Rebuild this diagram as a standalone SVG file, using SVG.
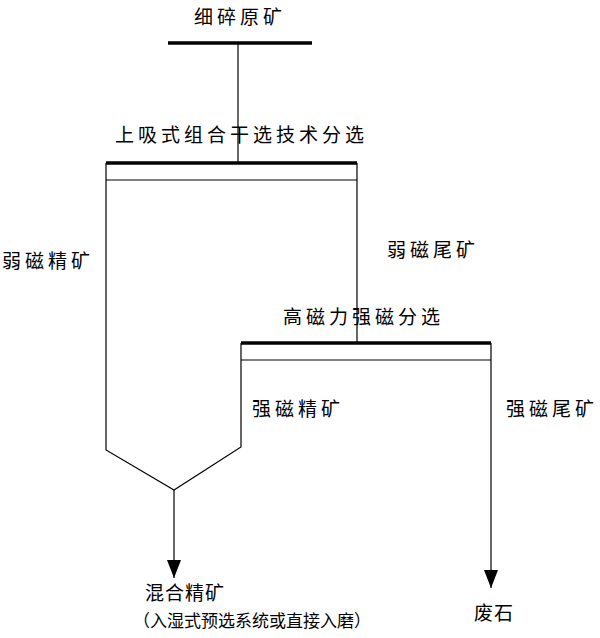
<svg xmlns="http://www.w3.org/2000/svg" width="600" height="638" viewBox="0 0 600 638">
<defs>
<style>
text{font-family:"Liberation Sans","Noto Sans CJK SC",sans-serif;font-size:19px;fill:#000;letter-spacing:4px}
.l{stroke:#000;stroke-width:1.2;fill:none}
.t{stroke:#000;stroke-width:3.5;fill:none}
</style>
<marker id="a" markerWidth="18" markerHeight="14" refX="18" refY="7" orient="auto" markerUnits="userSpaceOnUse"><path d="M0,0 L18,7 L0,14 Z" fill="#000"/></marker>
</defs>
<rect width="600" height="638" fill="#fff"/>
<g id="feed"><text x="194" y="24">细碎原矿</text><line class="t" x1="168" y1="43" x2="312" y2="43"/></g>
<g id="sep1"><text x="115" y="142">上吸式组合干选技术分选</text><line class="t" x1="106" y1="163" x2="357" y2="163"/><line class="l" x1="106" y1="180" x2="357" y2="180"/></g>
<g id="sep2"><text x="283" y="324">高磁力强磁分选</text><line class="t" x1="241" y1="343" x2="491" y2="343"/><line class="l" x1="241" y1="360" x2="491" y2="360"/></g>
<g id="connectors">
<line class="l" x1="238" y1="43" x2="238" y2="163"/>
<polyline class="l" points="106,163 106,450 174,490 241,447 241,343"/>
<line class="l" x1="357" y1="163" x2="357" y2="343"/>
<line class="l" x1="174" y1="490" x2="174" y2="578" marker-end="url(#a)"/>
<line class="l" x1="491" y1="343" x2="491" y2="588" marker-end="url(#a)"/>
</g>
<g id="labels">
<text x="2" y="268">弱磁精矿</text>
<text x="387" y="257">弱磁尾矿</text>
<text x="252" y="416">强磁精矿</text>
<text x="506" y="416">强磁尾矿</text>
</g>
<g id="out1"><text x="145" y="600" style="letter-spacing:1px">混合精矿</text><text x="133" y="627" style="font-size:17px;letter-spacing:0">（入湿式预选系统或直接入磨）</text></g>
<g id="out2"><text x="474" y="620" style="letter-spacing:1px">废石</text></g>
</svg>
